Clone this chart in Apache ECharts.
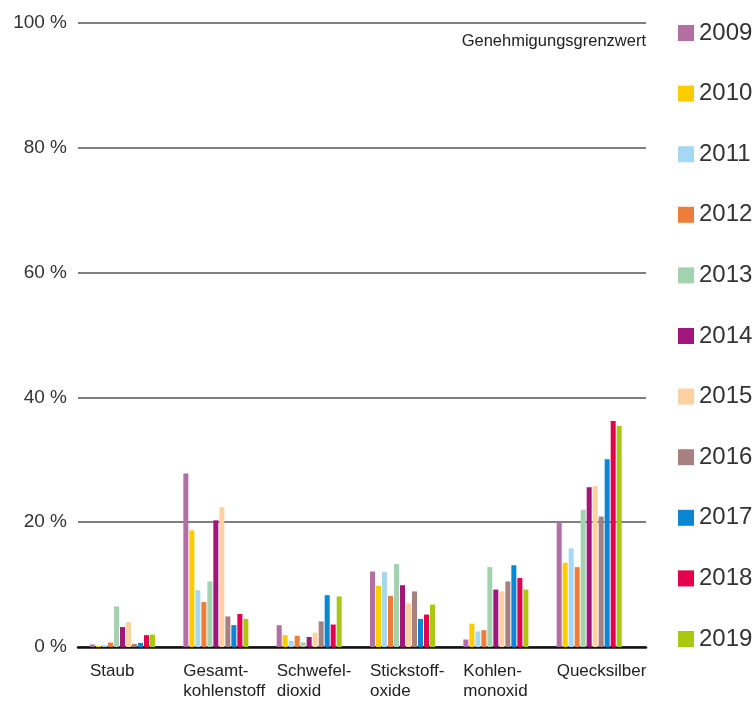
<!DOCTYPE html>
<html>
<head>
<meta charset="utf-8">
<script src="https://cdn.jsdelivr.net/npm/echarts@6/dist/echarts.min.js"></script>
<style>
  html, body { margin: 0; padding: 0; background: #fff; }
  #chart { width: 754px; height: 704px; }
</style>
</head>
<body>
<div id="chart"></div>
<script>
// Pollutant categories (x axis)
const categories = ['Staub', 'Gesamt-\nkohlenstoff', 'Schwefel-\ndioxid', 'Stickstoff-\noxide', 'Kohlen-\nmonoxid', 'Quecksilber'];

// Emission share of the permitted limit, in percent, per year
const years = ['2009', '2010', '2011', '2012', '2013', '2014', '2015', '2016', '2017', '2018', '2019'];
const values2009 = [0.4, 27.8, 3.5, 12.1, 1.2, 20.0];
const values2010 = [0.2, 18.7, 1.9, 9.8, 3.75, 13.5];
const values2011 = [0.3, 9.1, 1.0, 12.0, 2.5, 15.8];
const values2012 = [0.7, 7.2, 1.8, 8.2, 2.7, 12.8];
const values2013 = [6.5, 10.5, 0.75, 13.3, 12.8, 22.0];
const values2014 = [3.2, 20.3, 1.6, 9.9, 9.2, 25.6];
const values2015 = [4.0, 22.4, 2.3, 7.0, 8.9, 25.8];
const values2016 = [0.5, 4.9, 4.1, 8.9, 10.5, 20.9];
const values2017 = [0.65, 3.5, 8.3, 4.5, 13.1, 30.1];
const values2018 = [1.9, 5.3, 3.6, 5.2, 11.05, 36.2];
const values2019 = [2.0, 4.5, 8.1, 6.8, 9.2, 35.4];
const yearValues = [values2009, values2010, values2011, values2012, values2013, values2014,
                    values2015, values2016, values2017, values2018, values2019];

const yearColors = ['#b070a4', '#ffcc00', '#a6d7f4', '#ef7d3a', '#a2d2ae', '#a2157b',
                    '#fdd1a2', '#a88080', '#0a86d2', '#e6004b', '#a9c80f'];

// Y ticks: 0 % ... 100 % (100 % = Genehmigungsgrenzwert)
const yMin = 0, yMax = 100, yStep = 20;

const FONT = '"Liberation Sans", Arial, Helvetica, sans-serif';
const chart = echarts.init(document.getElementById('chart'), null, { renderer: 'canvas' });

const series = years.map((y, i) => ({
  name: y,
  type: 'bar',
  xAxisIndex: 1,
  yAxisIndex: 1,
  data: yearValues[i],
  barWidth: 5,
  barGap: '20%',
  itemStyle: { color: yearColors[i] },
  z: 2
}));

chart.setOption({
  animation: false,
  backgroundColor: '#ffffff',
  title: {
    text: 'Genehmigungsgrenzwert',
    right: 108,
    top: 33,
    padding: 0,
    textStyle: { fontFamily: FONT, fontSize: 16.5, fontWeight: 'normal', color: '#222' }
  },
  legend: {
    orient: 'vertical',
    left: 673,
    top: 16,
    icon: 'rect',
    itemWidth: 16,
    itemHeight: 16,
    itemGap: 36.6,
    data: years,
    selectedMode: false,
    textStyle: { fontFamily: FONT, fontSize: 24, lineHeight: 24, color: '#333' }
  },
  grid: [
    // 0: percentage scale with horizontal rules
    { left: 78, right: 108, top: 23, bottom: 57 },
    // 1: bar groups
    { left: 75.85, right: 118.15, top: 23, bottom: 57 },
    // 2: category captions, left-aligned with each bar group
    { left: 43.35, right: 150.65, top: 23, bottom: 57 }
  ],
  xAxis: [
    {
      gridIndex: 0, type: 'category', data: categories,
      axisLine: { show: true, lineStyle: { color: '#111', width: 2.5 } },
      axisTick: { show: false }, axisLabel: { show: false }, splitLine: { show: false }
    },
    {
      gridIndex: 1, type: 'category', data: categories,
      axisLine: { show: false }, axisTick: { show: false }, axisLabel: { show: false }
    },
    {
      gridIndex: 2, type: 'category', data: categories,
      axisLine: { show: false }, axisTick: { show: false },
      axisLabel: {
        show: true, interval: 0, align: 'left', margin: 14,
        fontFamily: FONT, fontSize: 17, lineHeight: 20.5, color: '#222'
      }
    }
  ],
  yAxis: [
    {
      gridIndex: 0, type: 'value', min: yMin, max: yMax, interval: yStep,
      axisLine: { show: false }, axisTick: { show: false },
      axisLabel: {
        formatter: '{value} %', margin: 11,
        fontFamily: FONT, fontSize: 19, color: '#333'
      },
      splitLine: { show: true, lineStyle: { color: '#555', width: 1.5 } }
    },
    {
      gridIndex: 1, type: 'value', min: yMin, max: yMax, interval: yStep,
      axisLine: { show: false }, axisTick: { show: false }, axisLabel: { show: false },
      splitLine: { show: false }
    },
    {
      gridIndex: 2, type: 'value', min: yMin, max: yMax, interval: yStep, show: false,
      splitLine: { show: false }
    }
  ],
  series: series
});
</script>
</body>
</html>
